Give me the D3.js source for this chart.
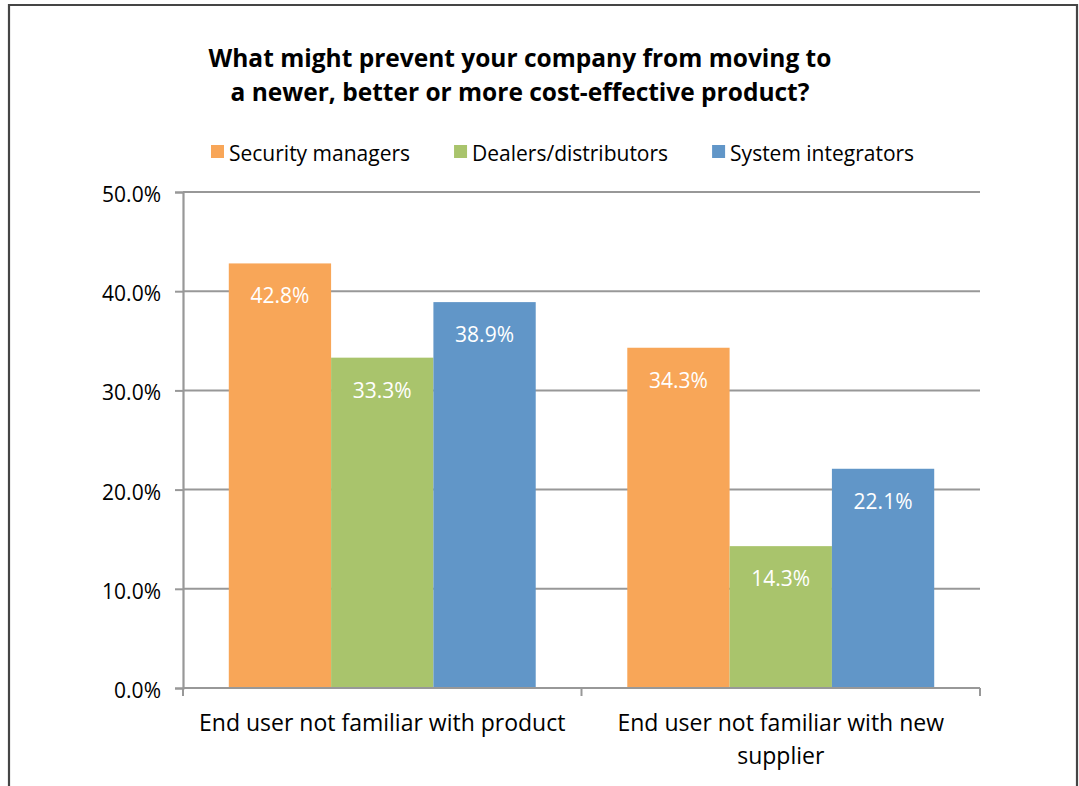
<!DOCTYPE html>
<html>
<head>
<meta charset="utf-8">
<script src="https://cdn.jsdelivr.net/npm/d3@7"></script>
<style>
  html, body { margin: 0; padding: 0; background: #fff; }
  svg { display: block; }
  text { font-family: "Open Sans", Lato, sans-serif; fill: #000; }
</style>
</head>
<body>
<svg id="chart" width="1079" height="786"></svg>
<script>
// Survey results: share of respondents citing each barrier
const categories = [
  "End user not familiar with product",
  "End user not familiar with new supplier"
];
const seriesNames = ["Security managers", "Dealers/distributors", "System integrators"];
const securityManagers = [42.8, 34.3];
const dealersDistributors = [33.3, 14.3];
const systemIntegrators = [38.9, 22.1];
const yTicks = [0, 10, 20, 30, 40, 50];
const titleLines = [
  "What might prevent your company from moving to",
  "a newer, better or more cost-effective product?"
];

const seriesValues = [securityManagers, dealersDistributors, systemIntegrators];
const colors = ["#F8A658", "#A9C46C", "#6196C8"];

const svg = d3.select("#chart");

// outer frame
svg.append("path")
  .attr("d", "M9,800 L9,5 L1077,5 L1077,800")
  .attr("fill", "none")
  .attr("stroke", "#454545")
  .attr("stroke-width", 2.2);

// title
const title = svg.append("text")
  .attr("text-anchor", "middle")
  .style("font-weight", "bold")
  .style("font-size", "24.5px");
titleLines.forEach((line, i) => {
  title.append("tspan").attr("x", 520).attr("y", 67 + i * 34).text(line);
});

// scales
const plotLeft = 183, plotRight = 980, plotTop = 192, plotBottom = 688;
const x0 = d3.scaleBand().domain(categories).range([plotLeft, plotRight]).padding(0);
const x1 = d3.scaleBand().domain(seriesNames).range([0, x0.bandwidth()])
  .paddingInner(0).paddingOuter(0.4475);
const y = d3.scaleLinear().domain([0, 50]).range([plotBottom, plotTop]);

// gridlines
svg.append("g").selectAll("line")
  .data(yTicks.filter(d => d > 0))
  .join("line")
  .attr("x1", plotLeft).attr("x2", plotRight)
  .attr("y1", d => y(d)).attr("y2", d => y(d))
  .attr("stroke", "#989898").attr("stroke-width", 2);

// bars
const groups = svg.append("g").selectAll("g")
  .data(categories)
  .join("g")
  .attr("transform", d => `translate(${x0(d)},0)`);

groups.selectAll("rect")
  .data((c, ci) => seriesNames.map((s, si) => ({ s, si, v: seriesValues[si][ci] })))
  .join("rect")
  .attr("x", d => x1(d.s))
  .attr("width", x1.bandwidth())
  .attr("y", d => y(d.v))
  .attr("height", d => y(0) - y(d.v))
  .attr("fill", d => colors[d.si]);

groups.selectAll("text.val")
  .data((c, ci) => seriesNames.map((s, si) => ({ s, si, v: seriesValues[si][ci] })))
  .join("text")
  .attr("class", "val")
  .attr("x", d => x1(d.s) + x1.bandwidth() / 2)
  .attr("y", d => y(d.v) + 40)
  .attr("text-anchor", "middle")
  .style("font-size", "21px")
  .style("fill", "#fff")
  .text(d => d.v.toFixed(1) + "%");

// y axis
const yAxis = d3.axisLeft(y).tickValues(yTicks).tickSize(8).tickPadding(14)
  .tickFormat(d => d.toFixed(1) + "%");
const yg = svg.append("g").attr("transform", `translate(${plotLeft},0)`).call(yAxis);
yg.select(".domain").attr("stroke", "#989898").attr("stroke-width", 2.2);
yg.selectAll(".tick line").attr("stroke", "#989898").attr("stroke-width", 2);
yg.selectAll(".tick text")
  .style("font-size", "21px")
  .style("font-family", "'Open Sans', sans-serif")
  .attr("dy", "0.45em")
  .attr("fill", "#000");

// x axis line and category separators
svg.append("line")
  .attr("x1", plotLeft).attr("x2", plotRight)
  .attr("y1", plotBottom).attr("y2", plotBottom)
  .attr("stroke", "#989898").attr("stroke-width", 2.2);
const seps = [x0(categories[0]), x0(categories[1]), x0(categories[1]) + x0.bandwidth()];
svg.append("g").selectAll("line")
  .data(seps)
  .join("line")
  .attr("x1", d => d).attr("x2", d => d)
  .attr("y1", plotBottom).attr("y2", plotBottom + 8)
  .attr("stroke", "#989898").attr("stroke-width", 2);

// category labels, wrapped to the band width
svg.append("g").selectAll("text")
  .data(categories)
  .join("text")
  .attr("text-anchor", "middle")
  .style("font-size", "23px")
  .each(function (d) {
    const t = d3.select(this);
    const cx = x0(d) + x0.bandwidth() / 2;
    const maxW = x0.bandwidth() - 20;
    const words = d.split(" ");
    let line = [];
    let lineNo = 0;
    let tspan = t.append("tspan").attr("x", cx).attr("y", 731);
    words.forEach(w => {
      line.push(w);
      tspan.text(line.join(" "));
      if (tspan.node().getComputedTextLength() > maxW && line.length > 1) {
        line.pop();
        tspan.text(line.join(" "));
        line = [w];
        lineNo++;
        tspan = t.append("tspan").attr("x", cx).attr("y", 731 + lineNo * 33).text(w);
      }
    });
  });

// legend
const legend = svg.append("g");
let lx = 211;
seriesNames.forEach((name, i) => {
  legend.append("rect")
    .attr("x", lx).attr("y", 145)
    .attr("width", 13).attr("height", 13)
    .attr("fill", colors[i]);
  const txt = legend.append("text")
    .attr("x", lx + 18).attr("y", 161)
    .style("font-size", "21px")
    .text(name);
  lx = lx + 18 + txt.node().getComputedTextLength() + 44;
});
</script>
</body>
</html>
